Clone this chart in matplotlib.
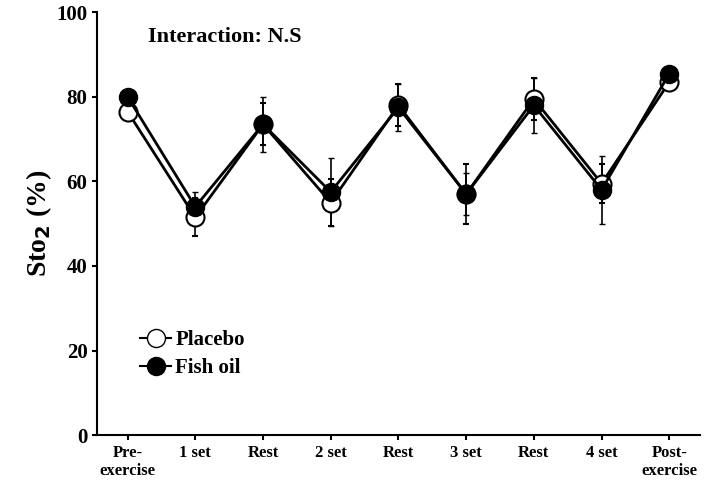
import matplotlib.pyplot as plt
from matplotlib.lines import Line2D

labels = ["Pre-\nexercise", "1 set", "Rest", "2 set", "Rest", "3 set", "Rest", "4 set", "Post-\nexercise"]
placebo = [76.5, 51.5, 73.5, 55.0, 78.0, 57.0, 79.5, 59.5, 83.5]
placebo_err = [1.5, 4.5, 5.0, 5.5, 5.0, 7.0, 5.0, 4.5, 1.5]
fish_oil = [80.0, 54.0, 73.5, 57.5, 77.5, 57.0, 78.0, 58.0, 85.5]
fish_oil_err = [1.5, 3.5, 6.5, 8.0, 5.5, 5.0, 6.5, 8.0, 1.5]

plt.rcParams["font.family"] = "Liberation Serif"
plt.rcParams["font.weight"] = "bold"

fig = plt.figure(figsize=(7.09, 4.90), dpi=100)
ax = fig.add_axes([0.137, 0.112, 0.85, 0.863])
x = list(range(len(labels)))

ax.errorbar(x, placebo, yerr=placebo_err, color="black", lw=2, marker="o", ms=13,
            mfc="white", mec="black", mew=1.5, capsize=2, elinewidth=1.2)
ax.errorbar(x, fish_oil, yerr=fish_oil_err, color="black", lw=2, marker="o", ms=13,
            mfc="black", mec="black", capsize=2, elinewidth=1.2)

ax.set_ylim(0, 100)
ax.set_xlim(-0.45, 8.45)
ax.set_yticks(range(0, 101, 20))
ax.set_xticks(x)
ax.set_xticklabels(labels, fontsize=12)
ax.tick_params(axis="y", labelsize=15, direction="out", width=1.5)
ax.tick_params(axis="x", direction="out", width=1.5)
for s in ["top", "right"]:
    ax.spines[s].set_visible(False)
for s in ["left", "bottom"]:
    ax.spines[s].set_linewidth(1.5)
ax.set_ylabel("Sto$_\\mathbf{2}$ (%)", fontsize=20, fontweight="bold", labelpad=2)
ax.text(0.3, 93, "Interaction: N.S", fontsize=16, fontweight="bold")

handles = [Line2D([], [], color="black", lw=1.5, marker="o", ms=13, mfc="white", mec="black"),
           Line2D([], [], color="black", lw=1.5, marker="o", ms=13, mfc="black", mec="black")]
ax.legend(handles, ["Placebo", "Fish oil"], loc="lower left", bbox_to_anchor=(0.04, 0.09),
          frameon=False, fontsize=15, handlelength=1.5, handletextpad=0.2, labelspacing=0.4)

fig.savefig("out.png", dpi=100)
